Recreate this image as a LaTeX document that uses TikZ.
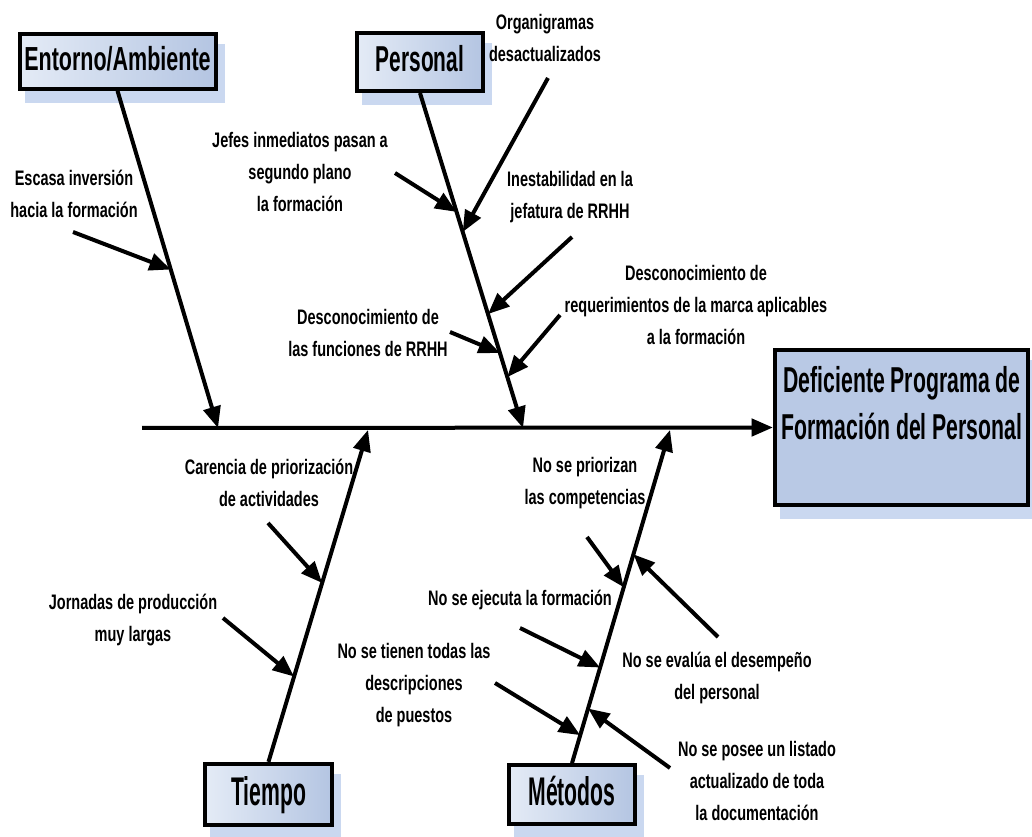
\documentclass[tikz,border=0pt]{standalone}
\usepackage{fontspec}
\setmainfont{Liberation Sans}[FakeStretch=0.69,UprightFont=*-Bold]
\newfontfamily\entfamily{Liberation Sans}[FakeStretch=0.645,UprightFont=*-Bold]
\newfontfamily\perfamily{Liberation Sans}[FakeStretch=0.58,UprightFont=*-Bold]
\newfontfamily\bigfamily{Liberation Sans}[FakeStretch=0.53,UprightFont=*-Bold]
\newfontfamily\ttlfamily{Liberation Sans}[FakeStretch=0.59,UprightFont=*-Bold]
\usetikzlibrary{arrows.meta,calc,backgrounds}

\definecolor{shadowblue}{RGB}{202,216,240}
\definecolor{boxlight}{RGB}{228,235,246}
\definecolor{boxdark}{RGB}{180,197,226}
\definecolor{effectfill}{RGB}{185,201,229}

\newcommand\lblfont{\fontsize{15.75}{24}\selectfont}
\newcommand\entfont{\entfamily\fontsize{25}{30}\selectfont}
\newcommand\perfont{\perfamily\fontsize{27}{32}\selectfont}
\newcommand\bigfont{\bigfamily\fontsize{30}{36}\selectfont}
\newcommand\titlefont{\ttlfamily\fontsize{27}{35}\selectfont}

\tikzset{
  catbox/.style={draw=black, line width=3pt, left color=boxlight, right color=boxdark,
    inner sep=0pt, text depth=5pt},
  effectbox/.style={draw=black, line width=3pt, fill=effectfill, inner sep=0pt},
  boxshadow/.style={fill=shadowblue},
  bone/.style={line width=3pt, -{Triangle[length=16pt,width=13pt]}},
  boneshadow/.style={line width=1.8pt, draw=shadowblue, -{Triangle[length=16pt,width=12pt]}, shadowblue},
  cause/.style={line width=3pt, -{Triangle[length=16pt,width=13pt]}},
  lbl/.style={align=center, inner sep=0pt, font=\lblfont},
}

\begin{document}
\begin{tikzpicture}[x=0.75pt,y=-0.75pt]
\useasboundingbox (0,0) rectangle (1032,837);

% category boxes and effect box
\node[catbox, font=\entfont, text height=18pt, minimum width=147pt, minimum height=41pt] (ent) at (117.5,61.5) {Entorno/Ambiente};
\node[catbox, font=\perfont, text height=19.3pt, minimum width=94.5pt, minimum height=43.5pt] (per) at (420,62) {Personal};
\node[catbox, font=\bigfont, text height=21.5pt, minimum width=95pt, minimum height=46pt] (tie) at (268.5,794.5) {Tiempo};
\node[catbox, font=\bigfont, text height=21.5pt, minimum width=94.5pt, minimum height=44pt] (met) at (572,794.5) {Métodos};
\node[effectbox, minimum width=190pt, minimum height=116pt] (effect) at (901.5,427.5) {};
\node[font=\titlefont, align=center, inner sep=0pt] (efftxt) at (902,403)
  {Deficiente Programa de\\Formación del Personal};

% spine and bone end points
\coordinate (spineStart) at (142,428);
\coordinate (entEnd) at (218,428);
\coordinate (perEnd) at (523,428);
\coordinate (tieEnd) at (368,430);
\coordinate (metEnd) at (670,430);

% soft drop shadows
\begin{scope}[on background layer]
  \foreach \b in {ent,per,tie,met,effect}
    \fill[boxshadow] ([shift={(7,12)}]\b.south west) rectangle ([shift={(7,12)}]\b.north east);
  \begin{scope}[shift={(7,11)}]
    \draw[boneshadow] (spineStart) -- (effect.west);
    \draw[boneshadow] (ent.south) -- (entEnd);
    \draw[boneshadow] (per.south) -- (perEnd);
    \draw[boneshadow] (tie.north) -- (tieEnd);
    \draw[boneshadow] (met.north) -- (metEnd);
  \end{scope}
\end{scope}

% main spine and bones
\draw[bone] (spineStart) -- (effect.west);
\draw[bone] (ent.south) -- (entEnd);
\draw[bone] (per.south) -- (perEnd);
\draw[bone] (tie.north) -- (tieEnd);
\draw[bone] (met.north) -- (metEnd);

% cause labels
\node[lbl] (lEsc) at (74,194) {Escasa inversión\\hacia la formación};
\node[lbl] (lJef) at (300,172) {Jefes inmediatos pasan a\\segundo plano\\la formación};
\node[lbl] (lOrg) at (545,38) {Organigramas\\desactualizados};
\node[lbl] (lIne) at (570,197) {Inestabilidad en la\\jefatura de RRHH};
\node[lbl] (lReq) at (696,305) {Desconocimiento de\\requerimientos de la marca aplicables\\a la formación};
\node[lbl] (lFun) at (368,333) {Desconocimiento de\\las funciones de RRHH};
\node[lbl] (lCar) at (269,483) {Carencia de priorización\\de actividades};
\node[lbl] (lJor) at (133,620) {Jornadas de producción\\muy largas};
\node[lbl] (lPri) at (585,483) {No se priorizan\\las competencias};
\node[lbl] (lEje) at (520,600) {No se ejecuta la formación};
\node[lbl] (lTie) at (414,685) {No se tienen todas las\\descripciones\\de puestos};
\node[lbl] (lEva) at (717,678) {No se evalúa el desempeño\\del personal};
\node[lbl] (lPos) at (757,781) {No se posee un listado\\actualizado de toda\\la documentación};

% cause arrows: start points
\coordinate (sEsc) at (73,232);
\coordinate (sJef) at (395,173);
\coordinate (sOrg) at (548,78);
\coordinate (sIne) at (572,237);
\coordinate (sFun) at (450,332);
\coordinate (sReq) at (560,315);
\coordinate (sCar) at (268,523);
\coordinate (sJor) at (223,618);
\coordinate (sPri) at (587,537);
\coordinate (sEva) at (718,637);
\coordinate (sEje) at (520,628);
\coordinate (sTie) at (495,683);
\coordinate (sPos) at (670,768);

% cause arrows: tips on the bones
\coordinate (tEsc) at ($(ent.south)!0.53!(entEnd)$);
\coordinate (tJef) at ($(per.south)!0.355!(perEnd)$);
\coordinate (tOrg) at ($(per.south)!0.415!(perEnd)$);
\coordinate (tIne) at ($(per.south)!0.66!(perEnd)$);
\coordinate (tFun) at ($(per.south)!0.776!(perEnd)$);
\coordinate (tReq) at ($(per.south)!0.848!(perEnd)$);
\coordinate (tCar) at ($(tie.north)!0.539!(tieEnd)$);
\coordinate (tJor) at ($(tie.north)!0.257!(tieEnd)$);
\coordinate (tPri) at ($(met.north)!0.528!(metEnd)$);
\coordinate (tEva) at ($(met.north)!0.627!(metEnd)$);
\coordinate (tEje) at ($(met.north)!0.287!(metEnd)$);
\coordinate (tTie) at ($(met.north)!0.084!(metEnd)$);
\coordinate (tPos) at ($(met.north)!0.164!(metEnd)$);

\foreach \c in {Esc,Jef,Org,Ine,Fun,Req,Car,Jor,Pri,Eva,Eje,Tie,Pos}
  \draw[cause] (s\c) -- (t\c);
\end{tikzpicture}
\end{document}
